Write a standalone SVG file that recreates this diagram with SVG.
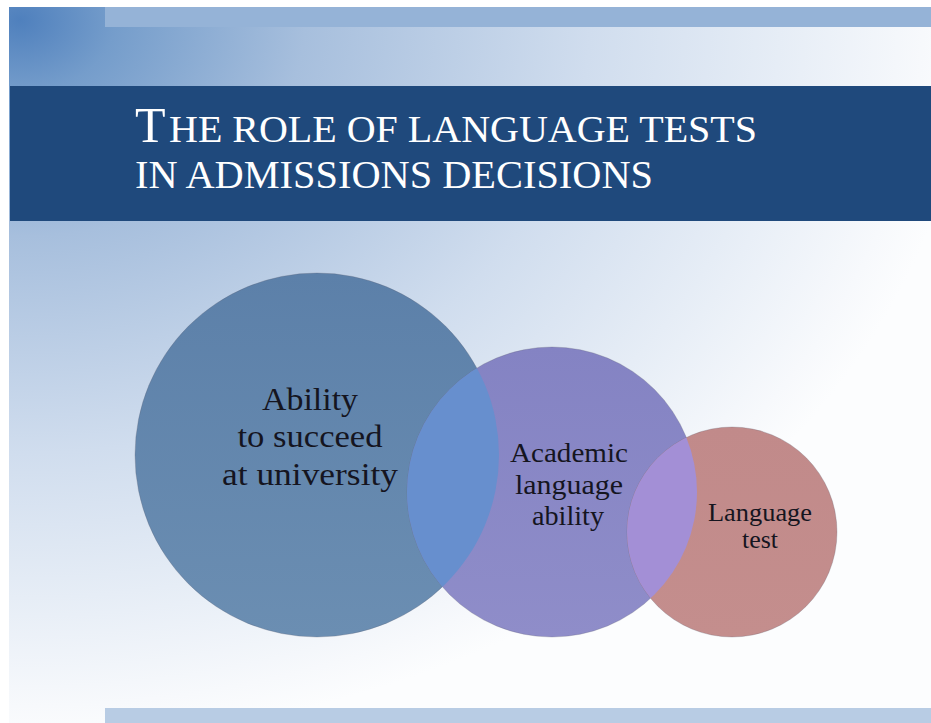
<svg xmlns="http://www.w3.org/2000/svg" width="931" height="723" viewBox="0 0 931 723">
<defs>
<style>
.title{fill:#ffffff;font-family:"Liberation Serif","Times New Roman",serif;}
.lbl{fill:#15151f;font-family:"Liberation Serif","Times New Roman",serif;text-anchor:middle;}
.edge{fill:none;stroke:#5a5a6a;stroke-opacity:0.25;stroke-width:1;}
</style>
<radialGradient id="bg" gradientUnits="userSpaceOnUse" cx="20" cy="20" r="950" gradientTransform="translate(20 20) scale(1 0.76) translate(-20 -20)">
<stop offset="0" stop-color="#4f80bd"/>
<stop offset="0.1" stop-color="#759dcb"/>
<stop offset="0.3" stop-color="#a7bfdd"/>
<stop offset="0.6" stop-color="#d0ddee"/>
<stop offset="0.8" stop-color="#e6edf6"/>
<stop offset="0.95" stop-color="#f7f9fc"/>
<stop offset="1" stop-color="#fcfdfe"/>
</radialGradient>
<linearGradient id="g1" x1="0" y1="0" x2="0" y2="1">
<stop offset="0" stop-color="#5c80a9"/>
<stop offset="1" stop-color="#6b8eb2"/>
</linearGradient>
<linearGradient id="g2" x1="0" y1="0" x2="0" y2="1">
<stop offset="0" stop-color="#8483c3"/>
<stop offset="1" stop-color="#8f8dc9"/>
</linearGradient>
<linearGradient id="g3" x1="0" y1="0" x2="0" y2="1">
<stop offset="0" stop-color="#c18a8a"/>
<stop offset="1" stop-color="#c48e8d"/>
</linearGradient>
<clipPath id="clip1"><circle cx="317" cy="455" r="182"/></clipPath>
<clipPath id="clip2"><circle cx="552" cy="492" r="145"/></clipPath>
</defs>

<rect x="0" y="0" width="931" height="723" fill="#ffffff"/>
<rect id="slide-bg" x="9" y="7" width="922" height="716" fill="url(#bg)"/>
<rect id="top-bar" x="105" y="7" width="826" height="20" fill="#95b3d7"/>
<rect id="title-band" x="10" y="86" width="921" height="135" fill="#1f497c"/>
<rect id="bottom-bar" x="105" y="708" width="826" height="15" fill="#b8cce4"/>

<g id="title">
<text class="title" x="135" y="142" font-size="50">T</text>
<text class="title" x="169" y="142" font-size="38" textLength="588" lengthAdjust="spacingAndGlyphs">HE ROLE OF LANGUAGE TESTS</text>
<text class="title" x="135" y="188" font-size="41" textLength="518" lengthAdjust="spacingAndGlyphs">IN ADMISSIONS DECISIONS</text>
</g>

<g id="node-ability">
<circle cx="317" cy="455" r="182" fill="url(#g1)"/>
<circle class="edge" cx="317" cy="455" r="182"/>
</g>
<g id="node-academic">
<circle cx="552" cy="492" r="145" fill="url(#g2)"/>
<circle class="edge" cx="552" cy="492" r="145"/>
</g>
<g id="node-test">
<circle cx="732" cy="532" r="105" fill="url(#g3)"/>
<circle class="edge" cx="732" cy="532" r="105"/>
</g>
<g id="overlaps">
<circle cx="552" cy="492" r="145" fill="#678fce" clip-path="url(#clip1)"/>
<circle cx="732" cy="532" r="105" fill="#a38fd6" clip-path="url(#clip2)"/>
</g>

<g id="labels">
<text class="lbl" x="310" y="410" font-size="32" textLength="96" lengthAdjust="spacingAndGlyphs">Ability</text>
<text class="lbl" x="310" y="447" font-size="32" textLength="145" lengthAdjust="spacingAndGlyphs">to succeed</text>
<text class="lbl" x="310" y="485" font-size="32" textLength="176" lengthAdjust="spacingAndGlyphs">at university</text>
<text class="lbl" x="569" y="462" font-size="27" textLength="118" lengthAdjust="spacingAndGlyphs">Academic</text>
<text class="lbl" x="569" y="494" font-size="27" textLength="108" lengthAdjust="spacingAndGlyphs">language</text>
<text class="lbl" x="568" y="525" font-size="27" textLength="72" lengthAdjust="spacingAndGlyphs">ability</text>
<text class="lbl" x="760" y="521" font-size="25" textLength="104" lengthAdjust="spacingAndGlyphs">Language</text>
<text class="lbl" x="760" y="548" font-size="25" textLength="36" lengthAdjust="spacingAndGlyphs">test</text>
</g>
</svg>
